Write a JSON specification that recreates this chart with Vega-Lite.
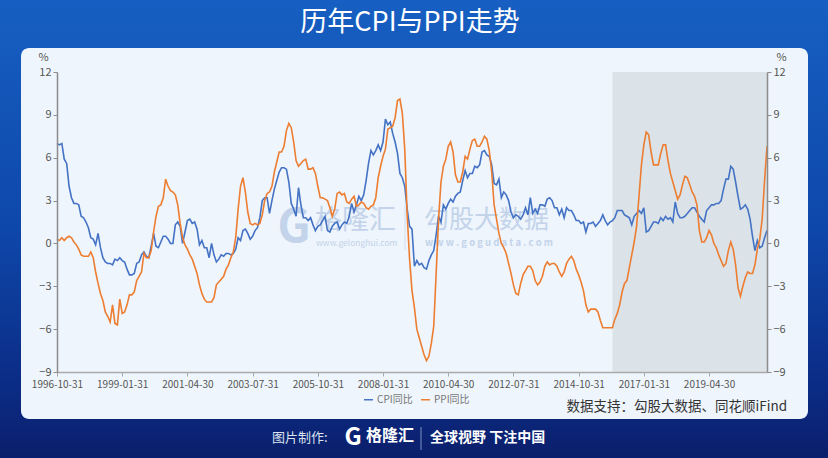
{
  "$schema": "https://vega.github.io/schema/vega-lite/v6.json",
  "width": 710,
  "height": 300,
  "autosize": {"type": "none"},
  "padding": {"left": 57, "top": 72, "right": 61, "bottom": 86},
  "background": "#0e3f9f",
  "layer": [
    {
      "data": {"values": [{}]},
      "mark": {
        "type": "rect",
        "fill": {
          "gradient": "linear", "x1": 0, "y1": 0, "x2": 0, "y2": 1,
          "stops": [
            {"offset": 0, "color": "#175fc2"},
            {"offset": 0.5, "color": "#0e47aa"},
            {"offset": 0.85, "color": "#0b2b84"},
            {"offset": 1, "color": "#0b1f6b"}
          ]
        }
      },
      "encoding": {"x": {"value": -57}, "x2": {"value": 771}, "y": {"value": -72}, "y2": {"value": 386}}
    },
    {
      "data": {"values": [{}]},
      "mark": {"type": "rect", "fill": "#eef5fc", "cornerRadius": 8},
      "encoding": {"x": {"value": -36}, "x2": {"value": 751}, "y": {"value": -24}, "y2": {"value": 347}}
    },
    {
      "data": {"values": [{}]},
      "mark": {"type": "rect", "fill": "#dbe3e8"},
      "encoding": {
        "x": {"datum": "2015-12-31", "type": "ordinal"},
        "x2": {"datum": "2021-04-30"},
        "y": {
          "datum": 12, "type": "quantitative",
          "scale": {"domain": [-9, 12], "nice": false},
          "axis": {
            "orient": "right", "values": [-9, -6, -3, 0, 3, 6, 9, 12],
            "title": "%", "titleAngle": 0, "titleX": 14, "titleY": -10,
            "titleAlign": "center", "titleBaseline": "bottom", "zindex": 2
          }
        },
        "y2": {"datum": -9}
      }
    },
    {
      "data": {"values": [{}]},
      "mark": {"type": "text", "text": "G", "x": 237, "y": 156, "fontSize": 46, "fontWeight": "bold", "align": "center", "baseline": "middle", "color": "#c3d3ea"}
    },
    {
      "data": {"values": [{}]},
      "mark": {"type": "text", "text": "格隆汇", "x": 258, "y": 149, "fontSize": 27, "align": "left", "baseline": "middle", "color": "#c3d3ea"}
    },
    {
      "data": {"values": [{}]},
      "mark": {"type": "text", "text": "www.gelonghui.com", "x": 259, "y": 171, "fontSize": 8.5, "align": "left", "baseline": "middle", "color": "#c3d3ea"}
    },
    {
      "data": {"values": [{}]},
      "mark": {"type": "text", "text": "勾股大数据", "x": 367, "y": 148, "fontSize": 25, "align": "left", "baseline": "middle", "color": "#c3d3ea"}
    },
    {
      "data": {"values": [{}]},
      "mark": {"type": "text", "text": "w w w . g o g u d a t a . c o m", "x": 368, "y": 171, "fontSize": 9.5, "fontWeight": "bold", "align": "left", "baseline": "middle", "color": "#c3d3ea"}
    },
    {
      "data": {"values": [{}]},
      "mark": {"type": "rule", "color": "#d3deed", "strokeWidth": 1},
      "encoding": {"x": {"value": 348}, "y": {"value": 133}, "y2": {"value": 178}}
    },
    {
      "data": {"values": [
        {"d":"1996-10-31","cpi":7.0,"ppi":0.3},{"d":"1996-11-30","cpi":6.9,"ppi":0.2},{"d":"1996-12-31","cpi":7.0,"ppi":0.4},
        {"d":"1997-01-31","cpi":5.9,"ppi":0.2},{"d":"1997-02-28","cpi":5.6,"ppi":0.4},{"d":"1997-03-31","cpi":4.0,"ppi":0.5},{"d":"1997-04-30","cpi":3.2,"ppi":0.4},{"d":"1997-05-31","cpi":2.8,"ppi":0.1},{"d":"1997-06-30","cpi":2.8,"ppi":-0.1},{"d":"1997-07-31","cpi":2.7,"ppi":-0.4},{"d":"1997-08-31","cpi":1.9,"ppi":-0.8},{"d":"1997-09-30","cpi":1.8,"ppi":-0.9},{"d":"1997-10-31","cpi":1.5,"ppi":-0.9},{"d":"1997-11-30","cpi":1.1,"ppi":-0.9},{"d":"1997-12-31","cpi":0.4,"ppi":-0.6},
        {"d":"1998-01-31","cpi":0.3,"ppi":-1.0},{"d":"1998-02-28","cpi":-0.1,"ppi":-2.0},{"d":"1998-03-31","cpi":0.7,"ppi":-2.8},{"d":"1998-04-30","cpi":-0.3,"ppi":-3.5},{"d":"1998-05-31","cpi":-1.0,"ppi":-4.0},{"d":"1998-06-30","cpi":-1.3,"ppi":-4.8},{"d":"1998-07-31","cpi":-1.4,"ppi":-5.1},{"d":"1998-08-31","cpi":-1.4,"ppi":-5.5},{"d":"1998-09-30","cpi":-1.5,"ppi":-4.3},{"d":"1998-10-31","cpi":-1.1,"ppi":-5.6},{"d":"1998-11-30","cpi":-1.2,"ppi":-5.7},{"d":"1998-12-31","cpi":-1.0,"ppi":-3.9},
        {"d":"1999-01-31","cpi":-1.2,"ppi":-4.9},{"d":"1999-02-28","cpi":-1.3,"ppi":-4.8},{"d":"1999-03-31","cpi":-1.8,"ppi":-4.3},{"d":"1999-04-30","cpi":-2.2,"ppi":-3.6},{"d":"1999-05-31","cpi":-2.2,"ppi":-3.6},{"d":"1999-06-30","cpi":-2.1,"ppi":-3.4},{"d":"1999-07-31","cpi":-1.4,"ppi":-2.6},{"d":"1999-08-31","cpi":-1.3,"ppi":-2.3},{"d":"1999-09-30","cpi":-0.8,"ppi":-2.0},{"d":"1999-10-31","cpi":-0.6,"ppi":-0.7},{"d":"1999-11-30","cpi":-0.9,"ppi":-1.0},{"d":"1999-12-31","cpi":-1.0,"ppi":-1.0},
        {"d":"2000-01-31","cpi":-0.2,"ppi":-0.5},{"d":"2000-02-29","cpi":0.7,"ppi":0.8},{"d":"2000-03-31","cpi":-0.2,"ppi":1.9},{"d":"2000-04-30","cpi":-0.3,"ppi":2.6},{"d":"2000-05-31","cpi":0.1,"ppi":2.7},{"d":"2000-06-30","cpi":0.5,"ppi":3.2},{"d":"2000-07-31","cpi":0.5,"ppi":4.5},{"d":"2000-08-31","cpi":0.3,"ppi":4.0},{"d":"2000-09-30","cpi":0.0,"ppi":3.7},{"d":"2000-10-31","cpi":0.0,"ppi":3.6},{"d":"2000-11-30","cpi":1.3,"ppi":3.4},{"d":"2000-12-31","cpi":1.5,"ppi":2.7},
        {"d":"2001-01-31","cpi":1.2,"ppi":1.4},{"d":"2001-02-28","cpi":0.0,"ppi":0.4},{"d":"2001-03-31","cpi":0.8,"ppi":-0.1},{"d":"2001-04-30","cpi":1.6,"ppi":-0.4},{"d":"2001-05-31","cpi":1.7,"ppi":-0.8},{"d":"2001-06-30","cpi":1.4,"ppi":-1.1},{"d":"2001-07-31","cpi":1.5,"ppi":-1.6},{"d":"2001-08-31","cpi":1.0,"ppi":-2.1},{"d":"2001-09-30","cpi":-0.1,"ppi":-2.9},{"d":"2001-10-31","cpi":0.2,"ppi":-3.5},{"d":"2001-11-30","cpi":-0.3,"ppi":-3.9},{"d":"2001-12-31","cpi":-0.3,"ppi":-4.1},
        {"d":"2002-01-31","cpi":-1.0,"ppi":-4.1},{"d":"2002-02-28","cpi":0.0,"ppi":-4.1},{"d":"2002-03-31","cpi":-0.8,"ppi":-3.8},{"d":"2002-04-30","cpi":-1.3,"ppi":-2.9},{"d":"2002-05-31","cpi":-1.1,"ppi":-2.7},{"d":"2002-06-30","cpi":-0.8,"ppi":-2.5},{"d":"2002-07-31","cpi":-0.9,"ppi":-2.3},{"d":"2002-08-31","cpi":-0.7,"ppi":-1.8},{"d":"2002-09-30","cpi":-0.7,"ppi":-1.5},{"d":"2002-10-31","cpi":-0.8,"ppi":-1.0},{"d":"2002-11-30","cpi":-0.7,"ppi":-0.6},{"d":"2002-12-31","cpi":-0.4,"ppi":0.4},
        {"d":"2003-01-31","cpi":0.4,"ppi":2.4},{"d":"2003-02-28","cpi":0.2,"ppi":4.0},{"d":"2003-03-31","cpi":0.9,"ppi":4.6},{"d":"2003-04-30","cpi":1.0,"ppi":3.6},{"d":"2003-05-31","cpi":0.7,"ppi":2.2},{"d":"2003-06-30","cpi":0.3,"ppi":1.4},{"d":"2003-07-31","cpi":0.5,"ppi":1.3},{"d":"2003-08-31","cpi":0.9,"ppi":1.4},{"d":"2003-09-30","cpi":1.1,"ppi":1.3},{"d":"2003-10-31","cpi":1.8,"ppi":1.4},{"d":"2003-11-30","cpi":3.0,"ppi":2.0},{"d":"2003-12-31","cpi":3.2,"ppi":3.0},
        {"d":"2004-01-31","cpi":3.2,"ppi":3.5},{"d":"2004-02-29","cpi":2.1,"ppi":3.6},{"d":"2004-03-31","cpi":3.0,"ppi":4.0},{"d":"2004-04-30","cpi":3.8,"ppi":5.0},{"d":"2004-05-31","cpi":4.4,"ppi":5.7},{"d":"2004-06-30","cpi":5.0,"ppi":6.4},{"d":"2004-07-31","cpi":5.3,"ppi":6.4},{"d":"2004-08-31","cpi":5.3,"ppi":6.8},{"d":"2004-09-30","cpi":5.2,"ppi":7.9},{"d":"2004-10-31","cpi":4.3,"ppi":8.4},{"d":"2004-11-30","cpi":2.8,"ppi":8.1},{"d":"2004-12-31","cpi":2.4,"ppi":7.1},
        {"d":"2005-01-31","cpi":1.9,"ppi":5.8},{"d":"2005-02-28","cpi":3.9,"ppi":5.4},{"d":"2005-03-31","cpi":2.7,"ppi":5.6},{"d":"2005-04-30","cpi":1.8,"ppi":5.8},{"d":"2005-05-31","cpi":1.8,"ppi":5.9},{"d":"2005-06-30","cpi":1.6,"ppi":5.2},{"d":"2005-07-31","cpi":1.8,"ppi":5.2},{"d":"2005-08-31","cpi":1.3,"ppi":5.3},{"d":"2005-09-30","cpi":0.9,"ppi":4.9},{"d":"2005-10-31","cpi":1.2,"ppi":4.0},{"d":"2005-11-30","cpi":1.3,"ppi":3.2},{"d":"2005-12-31","cpi":1.6,"ppi":3.2},
        {"d":"2006-01-31","cpi":1.9,"ppi":3.1},{"d":"2006-02-28","cpi":0.9,"ppi":3.0},{"d":"2006-03-31","cpi":0.8,"ppi":2.5},{"d":"2006-04-30","cpi":1.2,"ppi":1.9},{"d":"2006-05-31","cpi":1.4,"ppi":2.4},{"d":"2006-06-30","cpi":1.5,"ppi":3.5},{"d":"2006-07-31","cpi":1.0,"ppi":3.6},{"d":"2006-08-31","cpi":1.3,"ppi":3.4},{"d":"2006-09-30","cpi":1.5,"ppi":3.5},{"d":"2006-10-31","cpi":1.4,"ppi":2.9},{"d":"2006-11-30","cpi":1.9,"ppi":2.8},{"d":"2006-12-31","cpi":2.8,"ppi":3.1},
        {"d":"2007-01-31","cpi":2.2,"ppi":3.3},{"d":"2007-02-28","cpi":2.7,"ppi":2.6},{"d":"2007-03-31","cpi":3.3,"ppi":2.7},{"d":"2007-04-30","cpi":3.0,"ppi":2.9},{"d":"2007-05-31","cpi":3.4,"ppi":2.8},{"d":"2007-06-30","cpi":4.4,"ppi":2.5},{"d":"2007-07-31","cpi":5.6,"ppi":2.4},{"d":"2007-08-31","cpi":6.5,"ppi":2.6},{"d":"2007-09-30","cpi":6.2,"ppi":2.7},{"d":"2007-10-31","cpi":6.5,"ppi":3.2},{"d":"2007-11-30","cpi":6.9,"ppi":4.6},{"d":"2007-12-31","cpi":6.5,"ppi":5.4},
        {"d":"2008-01-31","cpi":7.1,"ppi":6.1},{"d":"2008-02-29","cpi":8.7,"ppi":6.6},{"d":"2008-03-31","cpi":8.3,"ppi":8.0},{"d":"2008-04-30","cpi":8.5,"ppi":8.1},{"d":"2008-05-31","cpi":7.7,"ppi":8.2},{"d":"2008-06-30","cpi":7.1,"ppi":8.8},{"d":"2008-07-31","cpi":6.3,"ppi":10.0},{"d":"2008-08-31","cpi":4.9,"ppi":10.1},{"d":"2008-09-30","cpi":4.6,"ppi":9.1},{"d":"2008-10-31","cpi":4.0,"ppi":6.6},{"d":"2008-11-30","cpi":2.4,"ppi":2.0},{"d":"2008-12-31","cpi":1.2,"ppi":-1.1},
        {"d":"2009-01-31","cpi":1.0,"ppi":-3.3},{"d":"2009-02-28","cpi":-1.6,"ppi":-4.5},{"d":"2009-03-31","cpi":-1.2,"ppi":-6.0},{"d":"2009-04-30","cpi":-1.5,"ppi":-6.6},{"d":"2009-05-31","cpi":-1.4,"ppi":-7.2},{"d":"2009-06-30","cpi":-1.7,"ppi":-7.8},{"d":"2009-07-31","cpi":-1.8,"ppi":-8.2},{"d":"2009-08-31","cpi":-1.2,"ppi":-7.9},{"d":"2009-09-30","cpi":-0.8,"ppi":-7.0},{"d":"2009-10-31","cpi":-0.5,"ppi":-5.8},{"d":"2009-11-30","cpi":0.6,"ppi":-2.1},{"d":"2009-12-31","cpi":1.9,"ppi":1.7},
        {"d":"2010-01-31","cpi":1.5,"ppi":4.3},{"d":"2010-02-28","cpi":2.7,"ppi":5.4},{"d":"2010-03-31","cpi":2.4,"ppi":5.9},{"d":"2010-04-30","cpi":2.8,"ppi":6.8},{"d":"2010-05-31","cpi":3.1,"ppi":7.1},{"d":"2010-06-30","cpi":2.9,"ppi":6.4},{"d":"2010-07-31","cpi":3.3,"ppi":4.8},{"d":"2010-08-31","cpi":3.5,"ppi":4.3},{"d":"2010-09-30","cpi":3.6,"ppi":4.3},{"d":"2010-10-31","cpi":4.4,"ppi":5.0},{"d":"2010-11-30","cpi":5.1,"ppi":6.1},{"d":"2010-12-31","cpi":4.6,"ppi":5.9},
        {"d":"2011-01-31","cpi":4.9,"ppi":6.6},{"d":"2011-02-28","cpi":4.9,"ppi":7.2},{"d":"2011-03-31","cpi":5.4,"ppi":7.3},{"d":"2011-04-30","cpi":5.3,"ppi":6.8},{"d":"2011-05-31","cpi":5.5,"ppi":6.8},{"d":"2011-06-30","cpi":6.4,"ppi":7.1},{"d":"2011-07-31","cpi":6.5,"ppi":7.5},{"d":"2011-08-31","cpi":6.2,"ppi":7.3},{"d":"2011-09-30","cpi":6.1,"ppi":6.5},{"d":"2011-10-31","cpi":5.5,"ppi":5.0},{"d":"2011-11-30","cpi":4.2,"ppi":2.7},{"d":"2011-12-31","cpi":4.1,"ppi":1.7},
        {"d":"2012-01-31","cpi":4.5,"ppi":0.7},{"d":"2012-02-29","cpi":3.2,"ppi":0.0},{"d":"2012-03-31","cpi":3.6,"ppi":-0.3},{"d":"2012-04-30","cpi":3.4,"ppi":-0.7},{"d":"2012-05-31","cpi":3.0,"ppi":-1.4},{"d":"2012-06-30","cpi":2.2,"ppi":-2.1},{"d":"2012-07-31","cpi":1.8,"ppi":-2.9},{"d":"2012-08-31","cpi":2.0,"ppi":-3.5},{"d":"2012-09-30","cpi":1.9,"ppi":-3.6},{"d":"2012-10-31","cpi":1.7,"ppi":-2.8},{"d":"2012-11-30","cpi":2.0,"ppi":-2.2},{"d":"2012-12-31","cpi":2.5,"ppi":-1.9},
        {"d":"2013-01-31","cpi":2.0,"ppi":-1.6},{"d":"2013-02-28","cpi":3.2,"ppi":-1.6},{"d":"2013-03-31","cpi":2.1,"ppi":-1.9},{"d":"2013-04-30","cpi":2.4,"ppi":-2.6},{"d":"2013-05-31","cpi":2.1,"ppi":-2.9},{"d":"2013-06-30","cpi":2.7,"ppi":-2.7},{"d":"2013-07-31","cpi":2.7,"ppi":-2.3},{"d":"2013-08-31","cpi":2.6,"ppi":-1.6},{"d":"2013-09-30","cpi":3.1,"ppi":-1.3},{"d":"2013-10-31","cpi":3.2,"ppi":-1.5},{"d":"2013-11-30","cpi":3.0,"ppi":-1.4},{"d":"2013-12-31","cpi":2.5,"ppi":-1.4},
        {"d":"2014-01-31","cpi":2.5,"ppi":-1.6},{"d":"2014-02-28","cpi":2.0,"ppi":-2.0},{"d":"2014-03-31","cpi":2.4,"ppi":-2.3},{"d":"2014-04-30","cpi":1.8,"ppi":-2.0},{"d":"2014-05-31","cpi":2.5,"ppi":-1.4},{"d":"2014-06-30","cpi":2.3,"ppi":-1.1},{"d":"2014-07-31","cpi":2.3,"ppi":-0.9},{"d":"2014-08-31","cpi":2.0,"ppi":-1.2},{"d":"2014-09-30","cpi":1.6,"ppi":-1.8},{"d":"2014-10-31","cpi":1.6,"ppi":-2.2},{"d":"2014-11-30","cpi":1.4,"ppi":-2.7},{"d":"2014-12-31","cpi":1.5,"ppi":-3.3},
        {"d":"2015-01-31","cpi":0.8,"ppi":-4.3},{"d":"2015-02-28","cpi":1.4,"ppi":-4.8},{"d":"2015-03-31","cpi":1.4,"ppi":-4.6},{"d":"2015-04-30","cpi":1.5,"ppi":-4.6},{"d":"2015-05-31","cpi":1.2,"ppi":-4.6},{"d":"2015-06-30","cpi":1.4,"ppi":-4.8},{"d":"2015-07-31","cpi":1.6,"ppi":-5.4},{"d":"2015-08-31","cpi":2.0,"ppi":-5.9},{"d":"2015-09-30","cpi":1.6,"ppi":-5.9},{"d":"2015-10-31","cpi":1.3,"ppi":-5.9},{"d":"2015-11-30","cpi":1.5,"ppi":-5.9},{"d":"2015-12-31","cpi":1.6,"ppi":-5.9},
        {"d":"2016-01-31","cpi":1.8,"ppi":-5.3},{"d":"2016-02-29","cpi":2.3,"ppi":-4.9},{"d":"2016-03-31","cpi":2.3,"ppi":-4.3},{"d":"2016-04-30","cpi":2.3,"ppi":-3.4},{"d":"2016-05-31","cpi":2.0,"ppi":-2.8},{"d":"2016-06-30","cpi":1.9,"ppi":-2.6},{"d":"2016-07-31","cpi":1.8,"ppi":-1.7},{"d":"2016-08-31","cpi":1.3,"ppi":-0.8},{"d":"2016-09-30","cpi":1.9,"ppi":0.1},{"d":"2016-10-31","cpi":2.1,"ppi":1.2},{"d":"2016-11-30","cpi":2.3,"ppi":3.3},{"d":"2016-12-31","cpi":2.1,"ppi":5.5},
        {"d":"2017-01-31","cpi":2.5,"ppi":6.9},{"d":"2017-02-28","cpi":0.8,"ppi":7.8},{"d":"2017-03-31","cpi":0.9,"ppi":7.6},{"d":"2017-04-30","cpi":1.2,"ppi":6.4},{"d":"2017-05-31","cpi":1.5,"ppi":5.5},{"d":"2017-06-30","cpi":1.5,"ppi":5.5},{"d":"2017-07-31","cpi":1.4,"ppi":5.5},{"d":"2017-08-31","cpi":1.8,"ppi":6.3},{"d":"2017-09-30","cpi":1.6,"ppi":6.9},{"d":"2017-10-31","cpi":1.9,"ppi":6.9},{"d":"2017-11-30","cpi":1.7,"ppi":5.8},{"d":"2017-12-31","cpi":1.8,"ppi":4.9},
        {"d":"2018-01-31","cpi":1.5,"ppi":4.3},{"d":"2018-02-28","cpi":2.9,"ppi":3.7},{"d":"2018-03-31","cpi":2.1,"ppi":3.1},{"d":"2018-04-30","cpi":1.8,"ppi":3.4},{"d":"2018-05-31","cpi":1.8,"ppi":4.1},{"d":"2018-06-30","cpi":1.9,"ppi":4.7},{"d":"2018-07-31","cpi":2.1,"ppi":4.6},{"d":"2018-08-31","cpi":2.3,"ppi":4.1},{"d":"2018-09-30","cpi":2.5,"ppi":3.6},{"d":"2018-10-31","cpi":2.5,"ppi":3.3},{"d":"2018-11-30","cpi":2.2,"ppi":2.7},{"d":"2018-12-31","cpi":1.9,"ppi":0.9},
        {"d":"2019-01-31","cpi":1.7,"ppi":0.1},{"d":"2019-02-28","cpi":1.5,"ppi":0.1},{"d":"2019-03-31","cpi":2.3,"ppi":0.4},{"d":"2019-04-30","cpi":2.5,"ppi":0.9},{"d":"2019-05-31","cpi":2.7,"ppi":0.6},{"d":"2019-06-30","cpi":2.7,"ppi":0.0},{"d":"2019-07-31","cpi":2.8,"ppi":-0.3},{"d":"2019-08-31","cpi":2.8,"ppi":-0.8},{"d":"2019-09-30","cpi":3.0,"ppi":-1.2},{"d":"2019-10-31","cpi":3.8,"ppi":-1.6},{"d":"2019-11-30","cpi":4.5,"ppi":-1.4},{"d":"2019-12-31","cpi":4.5,"ppi":-0.5},
        {"d":"2020-01-31","cpi":5.4,"ppi":0.1},{"d":"2020-02-29","cpi":5.2,"ppi":-0.4},{"d":"2020-03-31","cpi":4.3,"ppi":-1.5},{"d":"2020-04-30","cpi":3.3,"ppi":-3.1},{"d":"2020-05-31","cpi":2.4,"ppi":-3.7},{"d":"2020-06-30","cpi":2.5,"ppi":-3.0},{"d":"2020-07-31","cpi":2.7,"ppi":-2.4},{"d":"2020-08-31","cpi":2.4,"ppi":-2.0},{"d":"2020-09-30","cpi":1.7,"ppi":-2.1},{"d":"2020-10-31","cpi":0.5,"ppi":-2.1},{"d":"2020-11-30","cpi":-0.5,"ppi":-1.5},{"d":"2020-12-31","cpi":0.2,"ppi":-0.4},
        {"d":"2021-01-31","cpi":-0.3,"ppi":0.3},{"d":"2021-02-28","cpi":-0.2,"ppi":1.7},{"d":"2021-03-31","cpi":0.4,"ppi":4.4},{"d":"2021-04-30","cpi":0.9,"ppi":6.8}
      ]},
      "transform": [{"fold": ["cpi", "ppi"], "as": ["k", "v"]}],
      "mark": {"type": "line", "strokeWidth": 1.6, "interpolate": "linear"},
      "encoding": {
        "x": {
          "field": "d", "type": "ordinal",
          "scale": {"type": "point", "padding": 0},
          "axis": {
            "values": ["1996-10-31", "1999-01-31", "2001-04-30", "2003-07-31", "2005-10-31", "2008-01-31", "2010-04-30", "2012-07-31", "2014-10-31", "2017-01-31", "2019-04-30"],
            "labelAngle": 0, "labelAlign": "center", "labelBaseline": "top", "title": null,
            "domainColor": "#aaaaaa", "tickColor": "#aaaaaa", "labelFontSize": 10, "labelPadding": 3, "zindex": 2
          }
        },
        "y": {
          "field": "v", "type": "quantitative",
          "scale": {"domain": [-9, 12], "nice": false},
          "axis": {
            "orient": "left", "values": [-9, -6, -3, 0, 3, 6, 9, 12],
            "title": "%", "titleAngle": 0, "titleX": -14, "titleY": -10,
            "titleAlign": "center", "titleBaseline": "bottom", "zindex": 2
          }
        },
        "color": {
          "field": "k", "type": "nominal",
          "scale": {"domain": ["cpi", "ppi"], "range": ["#4472c4", "#ed7d31"]},
          "legend": {
            "orient": "none", "legendX": 306, "legendY": 322, "direction": "horizontal",
            "title": null, "symbolType": "stroke", "symbolSize": 80, "symbolStrokeWidth": 1.5,
            "labelFontSize": 10, "labelColor": "#777", "labelFont": "Noto Sans CJK SC",
            "columnPadding": 5, "labelOffset": 3, "padding": 0,
            "labelExpr": "datum.value == 'cpi' ? 'CPI同比' : 'PPI同比'"
          }
        }
      }
    },
    {
      "data": {"values": [{}]},
      "mark": {"type": "text", "text": "历年CPI与PPI走势", "x": 353, "y": -49, "fontSize": 27, "align": "center", "baseline": "middle", "color": "#ffffff"}
    },
    {
      "data": {"values": [{}]},
      "mark": {"type": "text", "text": "数据支持：勾股大数据、同花顺iFind", "x": 730, "y": 335, "fontSize": 13.5, "align": "right", "baseline": "middle", "color": "#333333"}
    },
    {
      "data": {"values": [{}]},
      "mark": {"type": "text", "text": "图片制作:", "x": 215, "y": 366, "fontSize": 13, "align": "left", "baseline": "middle", "color": "#dde3f0"}
    },
    {
      "data": {"values": [{}]},
      "mark": {"type": "text", "text": "G", "x": 296, "y": 366, "fontSize": 24, "fontWeight": "bold", "align": "center", "baseline": "middle", "color": "#ffffff"}
    },
    {
      "data": {"values": [{}]},
      "mark": {"type": "text", "text": "格隆汇", "x": 309, "y": 364, "fontSize": 16, "fontWeight": "bold", "align": "left", "baseline": "middle", "color": "#ffffff"}
    },
    {
      "data": {"values": [{}]},
      "mark": {"type": "text", "text": "全球视野 下注中国", "x": 373, "y": 366, "fontSize": 14, "fontWeight": "bold", "align": "left", "baseline": "middle", "color": "#ffffff"}
    },
    {
      "data": {"values": [{}]},
      "mark": {"type": "rule", "color": "#6a7fb5", "strokeWidth": 1.2},
      "encoding": {"x": {"value": 364}, "y": {"value": 355}, "y2": {"value": 378}}
    }
  ],
  "resolve": {"scale": {"y": "independent"}, "axis": {"y": "independent"}},
  "config": {
    "view": {"stroke": null},
    "font": "Noto Sans CJK SC",
    "text": {"font": "Noto Sans CJK SC"},
    "axis": {
      "grid": false,
      "domainColor": "#8c8c8c",
      "domainWidth": 1.5,
      "tickColor": "#8c8c8c",
      "tickSize": 4,
      "labelFontSize": 11,
      "labelColor": "#555555",
      "labelFont": "Noto Sans CJK SC",
      "titleFontSize": 11,
      "titleFontWeight": "normal",
      "titleColor": "#555555",
      "titleFont": "Noto Sans CJK SC",
      "labelPadding": 2,
      "zindex": 2
    }
  }
}
